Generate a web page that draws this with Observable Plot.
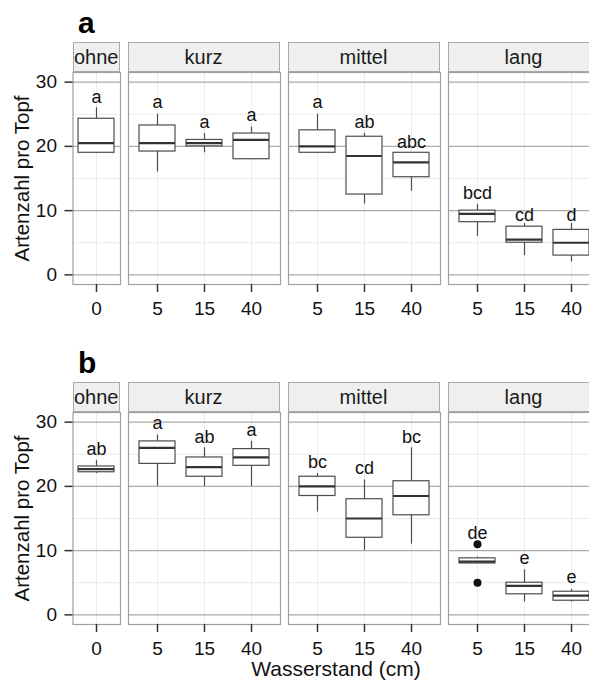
<!DOCTYPE html>
<html><head><meta charset="utf-8">
<script src="https://cdn.jsdelivr.net/npm/d3@7"></script>
<script src="https://cdn.jsdelivr.net/npm/@observablehq/plot@0.6"></script>
<style>
html,body{margin:0;padding:0;background:#fff;overflow:hidden;}
#chart{position:relative;width:589px;height:680px;overflow:hidden;font-family:"Liberation Sans",Arial,sans-serif;color:#111;}
#chart svg{overflow:visible;max-width:none !important;}
.panel{position:absolute;}
.strip{position:absolute;box-sizing:border-box;height:30px;background:#efefef;border:1px solid #a9a9a9;font-size:20px;line-height:29px;text-align:center;color:#1a1a1a;white-space:nowrap;}
.tag{position:absolute;font-weight:bold;font-size:30px;line-height:30px;color:#000;}
.xtitle{position:absolute;width:300px;text-align:center;font-size:21px;line-height:21px;color:#111;}
</style></head><body><div id="chart"></div>
<script>
// ---- data ----
const groups = ["ohne","kurz","kurz","kurz","mittel","mittel","mittel","lang","lang","lang"];
const levels = ["0","5","15","40","5","15","40","5","15","40"];
const facetOrder = ["ohne","kurz","mittel","lang"];

// panel a
const aLow    = [19, 16, 19, 18, 19, 11, 13, 6, 3, 2];
const aQ1     = [19, 19.2, 20, 18, 19, 12.5, 15.2, 8.2, 5, 3];
const aMedian = [20.5, 20.5, 20.5, 21, 20, 18.5, 17.5, 9.5, 5.5, 5];
const aQ3     = [24.3, 23.25, 21, 22, 22.5, 21.5, 19, 10, 7.5, 7];
const aHigh   = [26, 25, 22, 23, 25, 22, 19, 11, 8, 8];
const aLetters = ["a","a","a","a","a","ab","abc","bcd","cd","d"];
const aLetterY = [26.8, 25.9, 22.9, 23.9, 25.9, 22.8, 19.8, 11.75, 8.4, 8.4];

// panel b
const bLow    = [22, 20, 20, 20, 16, 10, 11, 8, 2, 2];
const bQ1     = [22.2, 23.5, 21.5, 23.2, 18.5, 12, 15.5, 8, 3.2, 2.2];
const bMedian = [22.7, 26, 23, 24.5, 20, 15, 18.5, 8.3, 4.5, 3];
const bQ3     = [23.1, 27, 24.5, 25.8, 21.5, 18, 20.8, 8.8, 5, 3.6];
const bHigh   = [24, 28, 26, 27, 22, 21, 26, 9, 7, 4];
const bLetters = ["ab","a","ab","a","bc","cd","bc","de","e","e"];
const bLetterY = [24.85, 28.9, 26.8, 27.85, 22.9, 21.9, 26.8, 11.85, 7.95, 5.0];
const bOutlierGroup = ["lang","lang"];
const bOutlierLevel = ["5","5"];
const bOutlierValue = [11, 5];

const yTicks = [0, 10, 20, 30];
const yMinor = [5, 15, 25];
const yTitle = "Artenzahl pro Topf";
const xTitle = "Wasserstand (cm)";

// ---- layout ----
const panelLeft = {ohne: 72.5, kurz: 127.5, mittel: 287.5, lang: 447.5};
const panelWidth = {ohne: 47.5, kurz: 152, mittel: 152, lang: 152};
const rowsLayout = [
  {tag: "a", tagTop: 8, stripTop: 41.5, frameTop: 71.5},
  {tag: "b", tagTop: 348, stripTop: 381.5, frameTop: 411.5}
];
const frameH = 212, mTop = 1, mBottom = 45;

function table(lo, q1, med, q3, hi, letters, ly) {
  return groups.map((g, i) => ({group: g, level: levels[i], lo: lo[i], q1: q1[i], med: med[i], q3: q3[i], hi: hi[i], letter: letters[i], ly: ly[i]}));
}
const dataA = table(aLow, aQ1, aMedian, aQ3, aHigh, aLetters, aLetterY);
const dataB = table(bLow, bQ1, bMedian, bQ3, bHigh, bLetters, bLetterY);
const outB = bOutlierGroup.map((g, i) => ({group: g, level: bOutlierLevel[i], value: bOutlierValue[i]}));

const chart = document.getElementById("chart");

function panelPlot(rows, outliers, group, first) {
  const data = rows.filter(d => d.group === group);
  const outs = outliers.filter(d => d.group === group);
  const cats = data.map(d => d.level);
  const mLeft = first ? 72.5 : 1;
  const w = panelWidth[group];
  const one = cats.length === 1;
  const marks = [
    Plot.ruleX(cats, {x: d => d, stroke: "#ebebeb", strokeWidth: 1}),
    Plot.ruleY(yMinor, {stroke: "#ebebeb", strokeWidth: 1}),
    Plot.ruleY(yTicks, {stroke: "#ababab", strokeWidth: 1.3}),
    Plot.ruleX(data, {x: "level", y1: "lo", y2: "hi", stroke: "#4d4d4d", strokeWidth: 1.2}),
    Plot.barY(data, {x: "level", y1: "q1", y2: "q3", fill: "white", stroke: "#4d4d4d", strokeWidth: 1.2}),
    Plot.tickY(data, {x: "level", y: "med", stroke: "#333", strokeWidth: 2.2}),
    Plot.dot(outs, {x: "level", y: "value", r: 4, fill: "#111", stroke: "none"}),
    Plot.text(data, {x: "level", y: "ly", text: "letter", lineAnchor: "bottom", fontSize: 18, fill: "#111"}),
    Plot.frame({stroke: "#9f9f9f", strokeWidth: 1.2}),
    Plot.axisX({tickSize: 8, tickPadding: 9, fontSize: 19, stroke: "#333", strokeWidth: 1.5, fill: "#111", label: null})
  ];
  if (first) {
    marks.push(Plot.axisY({ticks: yTicks, tickSize: 8, tickPadding: 8, fontSize: 19, stroke: "#333", strokeWidth: 1.5, fill: "#111", label: null}));
    marks.push(Plot.axisY({ticks: [], label: yTitle, labelAnchor: "center", labelArrow: "none", labelOffset: 59, fontSize: 20.5, fill: "#111"}));
  }
  return Plot.plot({
    width: mLeft + w + 1,
    height: mTop + frameH + mBottom,
    marginLeft: mLeft, marginRight: 1, marginTop: mTop, marginBottom: mBottom,
    style: {fontFamily: "'Liberation Sans', Arial, sans-serif", fontSize: "19px", background: "transparent", color: "#111", maxWidth: "none"},
    x: {type: "band", domain: cats, paddingInner: 0.242, paddingOuter: one ? 0.121 : 0.221, axis: null},
    y: {domain: [-1.5, 31.5], axis: null},
    marks
  });
}

[[dataA, []], [dataB, outB]].forEach(([rows, outs], r) => {
  const L = rowsLayout[r];
  const tag = document.createElement("div");
  tag.className = "tag"; tag.textContent = L.tag;
  tag.style.left = "78px"; tag.style.top = L.tagTop + "px";
  chart.appendChild(tag);
  facetOrder.forEach((g, k) => {
    const strip = document.createElement("div");
    strip.className = "strip"; strip.textContent = g;
    strip.style.left = panelLeft[g] + "px"; strip.style.top = L.stripTop + "px";
    strip.style.width = panelWidth[g] + "px";
    chart.appendChild(strip);
    const p = panelPlot(rows, outs, g, k === 0);
    const pw = (k === 0 ? 72.5 : 1) + panelWidth[g] + 1;
    const wrap = document.createElement("div");
    wrap.className = "panel";
    wrap.style.left = (k === 0 ? 0 : panelLeft[g] - 1) + "px";
    wrap.style.top = (L.frameTop - mTop) + "px";
    wrap.style.width = pw + "px";
    wrap.appendChild(p);
    chart.appendChild(wrap);
  });
});
const xt = document.createElement("div");
xt.className = "xtitle"; xt.textContent = xTitle;
xt.style.left = (336 - 150) + "px"; xt.style.top = "658px";
chart.appendChild(xt);
</script></body></html>
